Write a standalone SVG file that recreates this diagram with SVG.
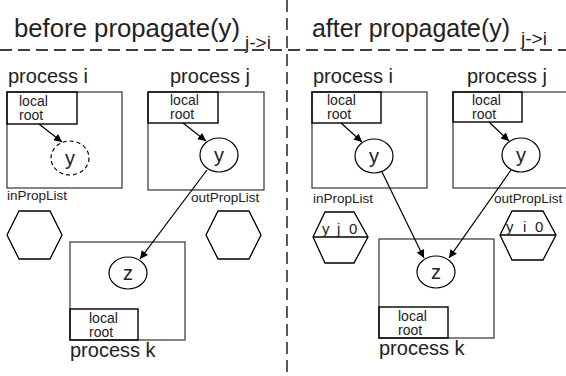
<svg xmlns="http://www.w3.org/2000/svg" width="566" height="376" viewBox="0 0 566 376">
<defs>
<style>
.t{font-family:"Liberation Sans",Arial,sans-serif;fill:#222}
.title{font-size:25px}
.sub{font-size:19px}
.proc{font-size:20px}
.lr{font-size:14px}
.lbl{font-size:13.5px}
.var{font-size:20px}
.cell{font-size:15px}
.pbox{fill:none;stroke:#333;stroke-width:1.2}
.lbox{fill:none;stroke:#000;stroke-width:1.4}
.ell{fill:none;stroke:#000;stroke-width:1.2}
.hex{fill:none;stroke:#000;stroke-width:1.3}
.dash{stroke:#000;stroke-width:1.3;stroke-dasharray:12 6;fill:none}
.edge{stroke:#000;stroke-width:1.2;fill:none;marker-end:url(#ah)}
</style>
<marker id="ah" viewBox="0 0 10 10" refX="10" refY="5" markerWidth="10" markerHeight="8" markerUnits="userSpaceOnUse" orient="auto">
<path d="M0,0 L10,5 L0,10 z" fill="#000"/>
</marker>
</defs>

<g id="dividers">
<line class="dash" x1="0" y1="50" x2="566" y2="50"/>
<line class="dash" x1="287" y1="0" x2="287" y2="376"/>
</g>

<g id="titles">
<text class="t title" x="14" y="37" textLength="226" lengthAdjust="spacingAndGlyphs">before propagate(y)</text>
<text class="t sub" x="245" y="49">j-&gt;i</text>
<text class="t title" x="312" y="37" textLength="198" lengthAdjust="spacingAndGlyphs">after propagate(y)</text>
<text class="t sub" x="521" y="45">j-&gt;i</text>
</g>

<!-- left panel -->
<g id="L-process-i">
<text class="t proc" x="8" y="83">process i</text>
<rect class="pbox" x="7" y="92" width="115" height="96"/>
<rect class="lbox" x="7" y="92" width="70" height="32"/>
<text class="t lr" x="19" y="106">local</text>
<text class="t lr" x="19" y="120">root</text>
<ellipse class="ell" cx="70" cy="158" rx="19" ry="17" stroke-dasharray="4 3"/>
<text class="t var" x="70" y="165" text-anchor="middle">y</text>
</g>

<g id="L-process-j">
<text class="t proc" x="170" y="83">process j</text>
<rect class="pbox" x="148" y="92" width="116" height="98"/>
<rect class="lbox" x="148" y="92" width="70" height="31"/>
<text class="t lr" x="170" y="105">local</text>
<text class="t lr" x="170" y="119">root</text>
<ellipse class="ell" cx="219" cy="155" rx="19" ry="17"/>
<text class="t var" x="219" y="162" text-anchor="middle">y</text>
</g>

<g id="L-inPropList">
<text class="t lbl" x="7" y="200">inPropList</text>
<polygon class="hex" points="19,211 50,211 62,235 50,259 19,259 7,235"/>
</g>

<g id="L-outPropList">
<text class="t lbl" x="191" y="202">outPropList</text>
<polygon class="hex" points="218,211 249,211 261,235 249,259 218,259 206,235"/>
</g>

<g id="L-process-k">
<rect class="pbox" x="70" y="242" width="115" height="98"/>
<ellipse class="ell" cx="128" cy="273" rx="19" ry="16"/>
<text class="t var" x="128" y="280" text-anchor="middle">z</text>
<rect class="lbox" x="70" y="309" width="68" height="31"/>
<text class="t lr" x="89" y="323">local</text>
<text class="t lr" x="89" y="337">root</text>
<text class="t proc" x="70" y="357">process k</text>
</g>

<!-- right panel -->
<g id="R-process-i">
<text class="t proc" x="313" y="83">process i</text>
<rect class="pbox" x="312" y="92" width="115" height="96"/>
<rect class="lbox" x="312" y="92" width="69" height="31"/>
<text class="t lr" x="327" y="105">local</text>
<text class="t lr" x="327" y="119">root</text>
<ellipse class="ell" cx="374" cy="156" rx="19" ry="17"/>
<text class="t var" x="374" y="163" text-anchor="middle">y</text>
</g>

<g id="R-process-j">
<text class="t proc" x="467" y="83">process j</text>
<rect class="pbox" x="453" y="92" width="120" height="96"/>
<rect class="lbox" x="453" y="92" width="69" height="30"/>
<text class="t lr" x="472" y="105">local</text>
<text class="t lr" x="472" y="119">root</text>
<ellipse class="ell" cx="521" cy="155" rx="19" ry="17"/>
<text class="t var" x="521" y="162" text-anchor="middle">y</text>
</g>

<g id="R-inPropList">
<text class="t lbl" x="313" y="203">inPropList</text>
<polygon class="hex" points="325,212 354,212 368,237 354,263 325,263 313,237"/>
<line class="hex" x1="313" y1="237" x2="368" y2="237"/>
<text class="t cell" x="322" y="234">y</text>
<text class="t cell" x="337" y="234">j</text>
<text class="t cell" x="349" y="234">0</text>
</g>

<g id="R-outPropList">
<text class="t lbl" x="494" y="203">outPropList</text>
<polygon class="hex" points="512,211 543,211 556,235 543,260 512,260 500,235"/>
<line class="hex" x1="500" y1="235" x2="556" y2="235"/>
<text class="t cell" x="506" y="232">y</text>
<text class="t cell" x="523" y="232">i</text>
<text class="t cell" x="535" y="232">0</text>
</g>

<g id="R-process-k">
<rect class="pbox" x="379" y="239" width="115" height="99"/>
<ellipse class="ell" cx="436" cy="272" rx="19" ry="16"/>
<text class="t var" x="436" y="279" text-anchor="middle">z</text>
<rect class="lbox" x="379" y="307" width="69" height="31"/>
<text class="t lr" x="398" y="321">local</text>
<text class="t lr" x="398" y="335">root</text>
<text class="t proc" x="379" y="355">process k</text>
</g>

<g id="connectors">
<line class="edge" x1="39" y1="124" x2="62" y2="142"/>
<line class="edge" x1="183" y1="123" x2="206" y2="141"/>
<line class="edge" x1="207" y1="170" x2="140" y2="259"/>
<line class="edge" x1="341" y1="123" x2="362" y2="142"/>
<line class="edge" x1="489" y1="122" x2="509" y2="141"/>
<line class="edge" x1="382" y1="172" x2="424" y2="258"/>
<line class="edge" x1="511" y1="170" x2="449" y2="258"/>
</g>
</svg>
